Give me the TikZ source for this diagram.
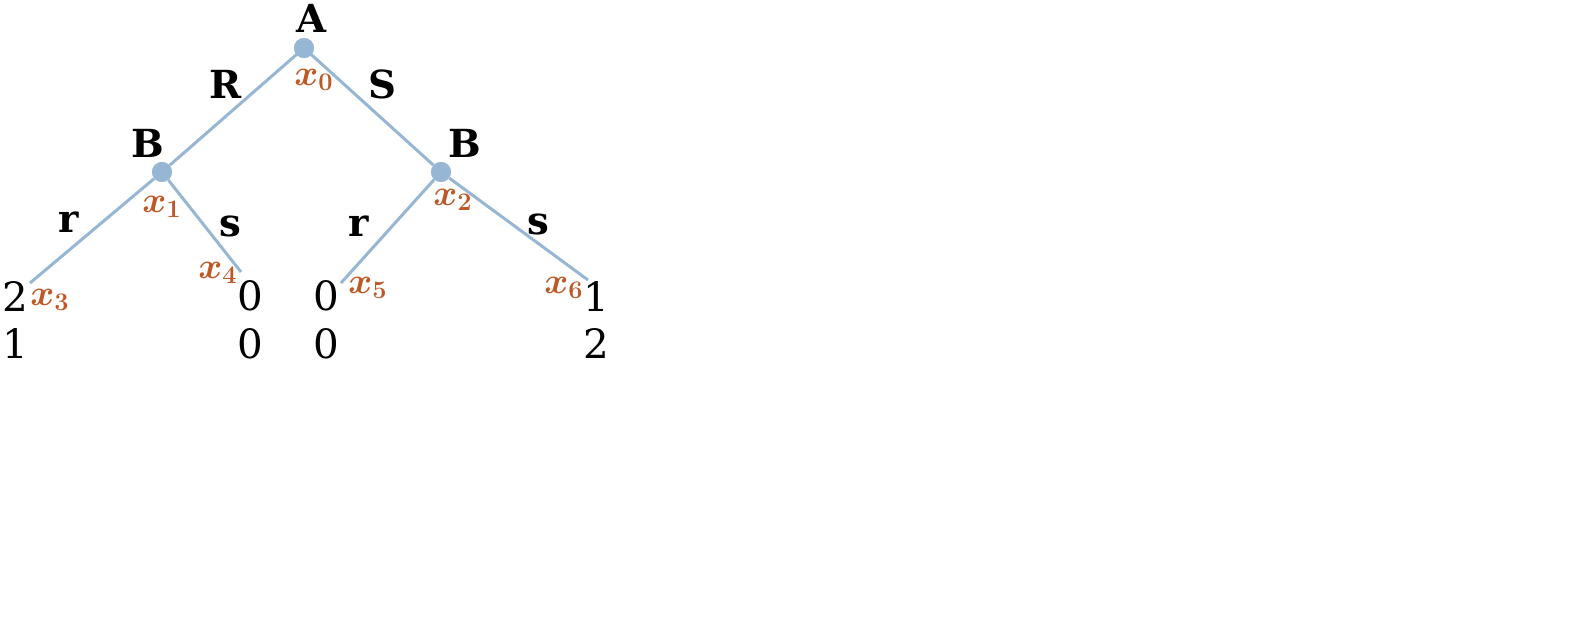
\documentclass[tikz,border=0pt]{standalone}
\usepackage{fontspec}
\newfontfamily\treefont{DejaVu Serif}
\definecolor{edgeblue}{RGB}{150,182,212}
\definecolor{labbrown}{RGB}{190,88,38}
\tikzset{
  dot/.style={circle,fill=edgeblue,inner sep=0pt,minimum size=0.4cm},
  move/.style={font=\treefont\bfseries\fontsize{22}{24}\selectfont},
  pay/.style={font=\treefont\fontsize{23}{25}\selectfont},
  lab/.style={text=labbrown,font=\fontsize{22}{24}\selectfont\boldmath}
}
\begin{document}
\begin{tikzpicture}[x=0.02cm,y=0.02cm]
\useasboundingbox (0,0) rectangle (1587,-619);

\node[dot] (a) at (304,-48) {};
\node[dot] (b1) at (162,-172) {};
\node[dot] (b2) at (441,-172) {};
\coordinate (l3) at (30,-283);
\coordinate (l4) at (241,-272);
\coordinate (l5) at (341,-283);
\coordinate (l6) at (588,-280);

\begin{scope}[edgeblue,line width=1.7pt]
\draw (a.center) -- (b1);
\draw (a.center) -- (b2);
\draw (b1) -- (l3);
\draw (b1) -- (l4);
\draw (b2) -- (l5);
\draw (b2) -- (l6);
\end{scope}
\node[dot] at (a) {};
\node[dot] at (b1) {};
\node[dot] at (b2) {};

\node[move] (pa) at (311,-18) {A};
\node[move] (pb1) at (148,-143) {B};
\node[move] (pb2) at (465,-143) {B};

\node[move] (mR) at (226,-84) {R};
\node[move] (mS) at (382,-84) {S};
\node[move] (mr1) at (69,-222) {r};
\node[move] (ms1) at (230,-226) {s};
\node[move] (mr2) at (359,-226) {r};
\node[move] (ms2) at (538,-224) {s};

\node[lab] (x0) at (314,-80) {$x_0$};
\node[lab] (x1) at (162,-207) {$x_1$};
\node[lab] (x2) at (453,-200) {$x_2$};
\node[lab] (x3) at (50,-300) {$x_3$};
\node[lab] (x4) at (218,-273) {$x_4$};
\node[lab] (x5) at (368,-288) {$x_5$};
\node[lab] (x6) at (564,-288) {$x_6$};

\foreach \nm/\px/\up/\dn in {p3/15/2/1, p4/250/0/0, p5/326/0/0, p6/596/1/2} {
  \node[pay] (\nm u) at (\px,-296) {\up};
  \node[pay] (\nm d) at (\px,-344) {\dn};
}
\end{tikzpicture}
\end{document}
